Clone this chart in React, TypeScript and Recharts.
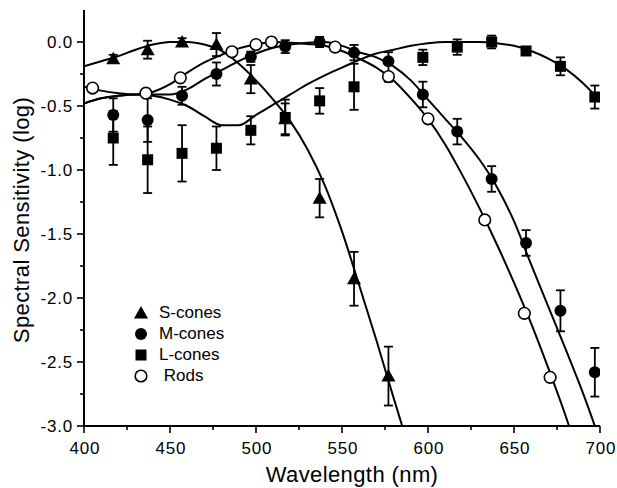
import React from 'react';
import { ComposedChart, Line, Scatter, XAxis, YAxis, ErrorBar, Legend } from 'recharts';

const FONT = '"Liberation Sans", Arial, Helvetica, sans-serif';

// fitted curves
const sCurveNm = [400, 410, 420, 430, 440, 450, 460, 470, 480, 490, 500, 510, 520, 530, 540, 550, 560, 570, 580, 585];
const sCurveLog = [-0.19, -0.15, -0.11, -0.06, -0.02, 0, 0, -0.02, -0.07, -0.17, -0.3, -0.45, -0.62, -0.84, -1.12, -1.48, -1.9, -2.33, -2.78, -3.0];

const mCurveNm = [400, 410, 420, 430, 440, 450, 460, 470, 480, 490, 500, 510, 520, 530, 540, 550, 560, 570, 580, 590, 600, 610, 620, 630, 640, 650, 660, 670, 680, 690, 697];
const mCurveLog = [-0.48, -0.44, -0.42, -0.41, -0.41, -0.41, -0.37, -0.29, -0.22, -0.15, -0.09, -0.045, -0.02, -0.005, 0, -0.03, -0.08, -0.12, -0.19, -0.3, -0.45, -0.6, -0.75, -0.92, -1.13, -1.4, -1.74, -2.07, -2.4, -2.74, -3.0];

const lCurveNm = [400, 410, 420, 430, 440, 450, 460, 470, 480, 490, 500, 510, 520, 530, 540, 550, 560, 570, 580, 590, 600, 610, 620, 630, 640, 650, 660, 670, 680, 690, 700];
const lCurveLog = [-0.48, -0.44, -0.42, -0.41, -0.42, -0.45, -0.5, -0.58, -0.65, -0.65, -0.57, -0.49, -0.41, -0.33, -0.26, -0.2, -0.14, -0.09, -0.06, -0.03, -0.01, 0, 0, 0, -0.01, -0.03, -0.07, -0.13, -0.21, -0.32, -0.46];

const rodCurveNm = [400, 410, 420, 430, 440, 450, 460, 470, 480, 490, 500, 510, 520, 530, 540, 550, 560, 570, 580, 590, 600, 610, 620, 630, 640, 650, 660, 670, 680, 682];
const rodCurveLog = [-0.35, -0.38, -0.4, -0.41, -0.39, -0.33, -0.24, -0.16, -0.1, -0.05, -0.02, 0, -0.005, -0.015, -0.03, -0.07, -0.13, -0.2, -0.3, -0.44, -0.6, -0.8, -1.04, -1.3, -1.58, -1.88, -2.2, -2.55, -2.92, -3.0];

// measured points, error = [minus, plus] or symmetric
const sNm = [417, 437, 457, 477, 497, 517, 537, 557, 577];
const sLog = [-0.13, -0.06, 0.0, -0.02, -0.29, -0.6, -1.22, -1.85, -2.61];
const sErr = [0.03, 0.07, 0.03, 0.09, 0.11, 0.12, 0.15, 0.21, 0.23];

const mNm = [417, 437, 457, 477, 497, 517, 537, 557, 577, 597, 617, 637, 657, 677, 697];
const mLog = [-0.57, -0.61, -0.42, -0.25, -0.115, -0.036, 0.0, -0.083, -0.15, -0.41, -0.7, -1.07, -1.57, -2.1, -2.58];
const mErr: (number | number[])[] = [0.13, 0.17, 0.07, 0.09, 0.04, 0.05, 0.04, 0.06, [0.16, 0.07], 0.1, 0.1, 0.1, 0.1, 0.16, 0.19];

const lNm = [417, 437, 457, 477, 497, 517, 537, 557, 597, 617, 637, 657, 677, 697];
const lLog = [-0.75, -0.92, -0.87, -0.83, -0.69, -0.59, -0.46, -0.35, -0.12, -0.04, 0.0, -0.07, -0.19, -0.43];
const lErr = [0.21, 0.26, 0.22, 0.17, 0.11, 0.14, 0.1, 0.18, 0.06, 0.06, 0.05, 0.02, 0.07, 0.09];

const rodNm = [405, 436, 456, 486, 500, 509, 546, 577, 600, 633, 656, 671];
const rodLog = [-0.36, -0.4, -0.28, -0.076, -0.02, 0.0, -0.04, -0.27, -0.6, -1.39, -2.12, -2.62];

const xTicks = [400, 425, 450, 475, 500, 525, 550, 575, 600, 625, 650, 675, 700];
const yTicks = [-3, -2.75, -2.5, -2.25, -2, -1.75, -1.5, -1.25, -1, -0.75, -0.5, -0.25, 0];

const legendItems = [
  { name: 'S-cones', mark: 'tri' },
  { name: 'M-cones', mark: 'dot' },
  { name: 'L-cones', mark: 'sq' },
  { name: ' Rods', mark: 'ring' },
];

const toCurve = (nm: number[], v: number[]) => nm.map((x, i) => ({ x, y: v[i] }));
const toPts = (nm: number[], v: number[], err?: any[]) =>
  nm.map((x, i) => ({ x, y: v[i], err: err ? err[i] : 0 }));

const Mark = ({ kind, cx, cy }: { kind: string; cx: number; cy: number }) => {
  if (kind === 'tri')
    return <polygon points={`${cx},${cy - 7} ${cx + 7},${cy + 5.5} ${cx - 7},${cy + 5.5}`} fill="#000" />;
  if (kind === 'dot') return <circle cx={cx} cy={cy} r={6} fill="#000" />;
  if (kind === 'sq') return <rect x={cx - 5.5} y={cy - 5.5} width={11} height={11} fill="#000" />;
  return <circle cx={cx} cy={cy} r={5.8} fill="#fff" stroke="#000" strokeWidth={1.6} />;
};

const YTick = ({ x, y, payload }: any) => {
  const v = payload.value;
  const major = Math.abs(v * 2 - Math.round(v * 2)) < 1e-6;
  return (
    <g>
      <line x1={x} x2={x - (major ? 7 : 4)} y1={y} y2={y} stroke="#000" strokeWidth={1.6} />
      {major && (
        <text x={x - 11} y={y + 6} textAnchor="end" fontSize={17} letterSpacing={0.8} fill="#000" fontFamily={FONT}>
          {v.toFixed(1)}
        </text>
      )}
    </g>
  );
};

const XTick = ({ x, y, payload }: any) => {
  const v = payload.value;
  const major = v % 50 === 0;
  return (
    <g>
      <line x1={x} x2={x} y1={y} y2={y + (major ? 7 : 4)} stroke="#000" strokeWidth={1.6} />
      {major && (
        <text x={x + 1} y={y + 28} textAnchor="middle" fontSize={17} letterSpacing={0.8} fill="#000" fontFamily={FONT}>
          {v}
        </text>
      )}
    </g>
  );
};

const AxisTitle = ({ tx, ty, rot, text }: any) => (
  <text
    x={tx}
    y={ty}
    textAnchor="middle"
    fontSize={22}
    letterSpacing={0.4}
    fill="#000"
    fontFamily={FONT}
    transform={rot ? `rotate(${rot} ${tx} ${ty})` : undefined}
  >
    {text}
  </text>
);

const renderLegend = () => (
  <div style={{ fontFamily: FONT, fontSize: 17, color: '#000' }}>
    {legendItems.map((it) => (
      <div key={it.name} style={{ display: 'flex', alignItems: 'center', height: 21 }}>
        <svg width={16} height={16} style={{ marginRight: 10 }}>
          <Mark kind={it.mark} cx={8} cy={8} />
        </svg>
        <span style={{ whiteSpace: 'pre' }}>{it.name}</span>
      </div>
    ))}
  </div>
);

export default function App() {
  return (
    <div style={{ position: 'absolute', left: 0, top: 0, width: 617, height: 488, background: '#fff' }}>
      <ComposedChart width={617} height={488} margin={{ top: 10, right: 17, bottom: 0, left: 0 }}>
        <XAxis
          type="number"
          dataKey="x"
          domain={[400, 700]}
          ticks={xTicks}
          interval={0}
          tickSize={0}
          tickMargin={0}
          tickLine={false}
          tick={<XTick />}
          height={62}
          axisLine={{ stroke: '#000', strokeWidth: 2 }}
          allowDataOverflow
          label={<AxisTitle tx={352} ty={482} text="Wavelength (nm)" />}
        />
        <YAxis
          type="number"
          dataKey="y"
          domain={[-3, 0.25]}
          ticks={yTicks}
          interval={0}
          tickSize={0}
          tickMargin={0}
          tickLine={false}
          tick={<YTick />}
          width={84}
          axisLine={{ stroke: '#000', strokeWidth: 2 }}
          allowDataOverflow
          label={<AxisTitle tx={29} ty={220} rot={-90} text="Spectral Sensitivity (log)" />}
        />
        <Legend layout="vertical" align="center" verticalAlign="middle" content={renderLegend} wrapperStyle={{ left: 133, top: 302, width: 130 }} />

        <Line data={toCurve(sCurveNm, sCurveLog)} dataKey="y" type="monotone" stroke="#000" strokeWidth={2} dot={false} isAnimationActive={false} />
        <Line data={toCurve(mCurveNm, mCurveLog)} dataKey="y" type="monotone" stroke="#000" strokeWidth={2} dot={false} isAnimationActive={false} />
        <Line data={toCurve(lCurveNm, lCurveLog)} dataKey="y" type="monotone" stroke="#000" strokeWidth={2} dot={false} isAnimationActive={false} />
        <Line data={toCurve(rodCurveNm, rodCurveLog)} dataKey="y" type="monotone" stroke="#000" strokeWidth={2} dot={false} isAnimationActive={false} />

        <Scatter data={toPts(lNm, lLog, lErr)} shape={(p: any) => <Mark kind="sq" cx={p.cx} cy={p.cy} />} isAnimationActive={false}>
          <ErrorBar dataKey="err" direction="y" width={4.5} stroke="#000" strokeWidth={1.8} isAnimationActive={false} />
        </Scatter>
        <Scatter data={toPts(mNm, mLog, mErr)} shape={(p: any) => <Mark kind="dot" cx={p.cx} cy={p.cy} />} isAnimationActive={false}>
          <ErrorBar dataKey="err" direction="y" width={4.5} stroke="#000" strokeWidth={1.8} isAnimationActive={false} />
        </Scatter>
        <Scatter data={toPts(sNm, sLog, sErr)} shape={(p: any) => <Mark kind="tri" cx={p.cx} cy={p.cy} />} isAnimationActive={false}>
          <ErrorBar dataKey="err" direction="y" width={4.5} stroke="#000" strokeWidth={1.8} isAnimationActive={false} />
        </Scatter>
        <Scatter data={toPts(rodNm, rodLog)} shape={(p: any) => <Mark kind="ring" cx={p.cx} cy={p.cy} />} isAnimationActive={false} />
      </ComposedChart>
    </div>
  );
}
